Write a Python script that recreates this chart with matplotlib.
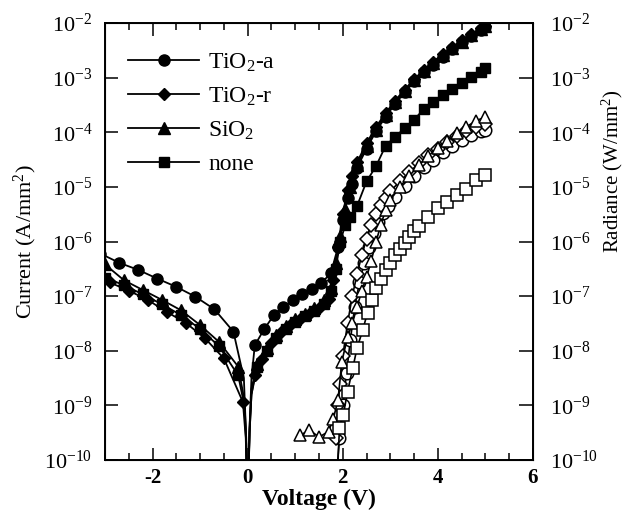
import numpy as np
import matplotlib
matplotlib.use("Agg")
import matplotlib.pyplot as plt
from matplotlib.ticker import MultipleLocator, LogLocator, NullLocator

plt.rcParams["font.family"] = "Liberation Serif"
plt.rcParams["mathtext.fontset"] = "custom"
plt.rcParams["mathtext.rm"] = "Liberation Serif"
plt.rcParams["mathtext.it"] = "Liberation Serif:italic"
plt.rcParams["mathtext.bf"] = "Liberation Serif:bold"
plt.rcParams["axes.unicode_minus"] = False

# current density, log10(A/mm^2), filled symbols
v_ti_a = [-3.1, -2.7, -2.3, -1.9, -1.5, -1.1, -0.7, -0.3, -0.08, -0.04, 0.0, 0.04, 0.08,
          0.15, 0.35, 0.55, 0.75, 0.95, 1.15, 1.35, 1.55, 1.75, 1.9, 2.0, 2.1, 2.2, 2.3,
          2.5, 2.7, 2.9, 3.1, 3.3, 3.5, 3.7, 3.9, 4.1, 4.3, 4.5, 4.7, 4.9, 5.0]
i_ti_a = [-6.22, -6.39, -6.52, -6.68, -6.83, -7.01, -7.24, -7.65, -8.5, -9.4, -11.0, -9.4, -8.5,
          -7.9, -7.6, -7.35, -7.2, -7.07, -6.96, -6.87, -6.76, -6.58, -6.1, -5.6, -5.2, -4.95, -4.65,
          -4.3, -3.98, -3.72, -3.48, -3.27, -3.07, -2.9, -2.76, -2.62, -2.48, -2.35, -2.23, -2.12, -2.07]

v_ti_r = [-2.9, -2.5, -2.1, -1.7, -1.3, -0.9, -0.5, -0.1, -0.04, 0.0, 0.04, 0.08,
          0.15, 0.3, 0.5, 0.7, 0.9, 1.1, 1.3, 1.5, 1.7, 1.8, 1.9, 2.0, 2.1, 2.2, 2.3,
          2.5, 2.7, 2.9, 3.1, 3.3, 3.5, 3.7, 3.9, 4.1, 4.3, 4.5, 4.7, 4.9, 5.0]
i_ti_r = [-6.75, -6.9, -7.07, -7.29, -7.49, -7.77, -8.14, -8.94, -9.6, -11.0, -9.5, -8.8,
          -8.45, -8.15, -7.85, -7.65, -7.52, -7.42, -7.33, -7.22, -7.05, -6.7, -6.1, -5.5, -5.05, -4.8, -4.55,
          -4.2, -3.9, -3.65, -3.42, -3.22, -3.03, -2.86, -2.71, -2.57, -2.44, -2.32, -2.2, -2.1, -2.05]

v_sio2 = [-3.0, -2.6, -2.2, -1.8, -1.4, -1.0, -0.6, -0.2, -0.07, -0.03, 0.0, 0.04, 0.08,
          0.2, 0.4, 0.6, 0.8, 1.0, 1.2, 1.4, 1.6, 1.75, 1.85, 1.95, 2.05, 2.15, 2.3,
          2.5, 2.7, 2.9, 3.1, 3.3, 3.5, 3.7, 3.9, 4.1, 4.3, 4.5, 4.7, 4.9, 5.0]
i_sio2 = [-6.42, -6.71, -6.89, -7.07, -7.26, -7.53, -7.84, -8.29, -8.9, -9.6, -11.0, -9.4, -8.7,
          -8.25, -7.95, -7.72, -7.55, -7.42, -7.32, -7.22, -7.08, -6.85, -6.4, -5.9, -5.4, -5.0, -4.6,
          -4.25, -3.95, -3.68, -3.45, -3.24, -3.05, -2.88, -2.73, -2.59, -2.46, -2.34, -2.22, -2.11, -2.06]

v_none = [-3.0, -2.6, -2.2, -1.8, -1.4, -1.0, -0.6, -0.2, -0.07, -0.03, 0.0, 0.04, 0.08,
          0.2, 0.4, 0.6, 0.8, 1.0, 1.2, 1.4, 1.6, 1.75, 1.85, 1.95, 2.05, 2.15, 2.3,
          2.5, 2.7, 2.9, 3.1, 3.3, 3.5, 3.7, 3.9, 4.1, 4.3, 4.5, 4.7, 4.9, 5.0]
i_none = [-6.66, -6.8, -6.97, -7.15, -7.35, -7.6, -7.92, -8.45, -9.0, -9.7, -11.0, -9.5, -8.8,
          -8.3, -8.0, -7.76, -7.6, -7.47, -7.37, -7.27, -7.14, -6.9, -6.5, -6.0, -5.7, -5.55, -5.35,
          -4.9, -4.62, -4.25, -4.08, -3.93, -3.77, -3.58, -3.45, -3.31, -3.2, -3.09, -2.99, -2.89, -2.83]

# radiance, log10(W/mm^2), open symbols
rv_ti_a = [1.85, 1.93, 2.0, 2.08, 2.16, 2.25, 2.35, 2.45, 2.55, 2.65, 2.75, 2.85, 2.95,
           3.1, 3.3, 3.5, 3.7, 3.9, 4.1, 4.3, 4.5, 4.7, 4.9, 5.0]
r_ti_a = [-10.5, -9.6, -9.0, -8.4, -7.8, -7.2, -6.75, -6.4, -6.1, -5.85, -5.65, -5.48, -5.35,
          -5.18, -4.98, -4.8, -4.64, -4.5, -4.37, -4.25, -4.14, -4.05, -3.98, -3.95]

rv_ti_r = [1.85, 1.9, 1.94, 2.0, 2.1, 2.2, 2.3, 2.4, 2.5, 2.6, 2.7, 2.8, 2.9,
           3.0, 3.2, 3.4, 3.6, 3.8, 4.0, 4.2, 4.4, 4.6, 4.8, 5.0]
r_ti_r = [-9.6, -9.0, -8.6, -8.1, -7.5, -7.0, -6.6, -6.25, -5.95, -5.7, -5.5, -5.33, -5.2,
          -5.08, -4.9, -4.73, -4.57, -4.42, -4.3, -4.18, -4.07, -3.97, -3.9, -3.85]

rv_sio2 = [1.1, 1.3, 1.5, 1.7, 1.8, 1.9, 1.98, 2.1, 2.2, 2.3, 2.4, 2.5, 2.6, 2.7, 2.8, 2.9,
           3.0, 3.2, 3.4, 3.6, 3.8, 4.0, 4.2, 4.4, 4.6, 4.8, 5.0]
r_sio2 = [-9.55, -9.45, -9.58, -9.48, -9.25, -8.9, -8.2, -7.75, -7.5, -7.2, -6.9, -6.65, -6.35, -6.0, -5.7, -5.42,
          -5.24, -5.0, -4.8, -4.6, -4.43, -4.29, -4.16, -4.02, -3.9, -3.79, -3.72]

rv_none = [1.88, 1.93, 2.01, 2.1, 2.21, 2.3, 2.42, 2.52, 2.61, 2.7, 2.8, 2.9, 3.0, 3.1, 3.2,
           3.3, 3.4, 3.5, 3.6, 3.8, 4.0, 4.2, 4.4, 4.6, 4.8, 5.0]
r_none = [-10.4, -9.42, -9.18, -8.75, -8.32, -7.95, -7.62, -7.3, -7.07, -6.85, -6.68, -6.52, -6.4, -6.25, -6.13,
          -6.02, -5.92, -5.8, -5.72, -5.55, -5.39, -5.27, -5.15, -5.03, -4.88, -4.78]

labels = ["TiO$_2$-a", "TiO$_2$-r", "SiO$_2$", "none"]
markers = ["o", "D", "^", "s"]
sizes = [8, 6, 8, 7]

fig = plt.figure(figsize=(6.26, 5.14), dpi=100)
ax = fig.add_axes([105 / 626, 54 / 514, 428 / 626, 437 / 514])

current = [(v_ti_a, i_ti_a), (v_ti_r, i_ti_r), (v_sio2, i_sio2), (v_none, i_none)]
for (v, lg), mk, ms, lab in zip(current, markers, sizes, labels):
    v = np.array(v)
    ax.plot(v, 10.0 ** np.array(lg), color="black", lw=1.3, marker=mk, ms=ms,
            mfc="black", mec="black", markevery=list(np.abs(v) >= 0.09), label=lab)

radiance = [(rv_ti_a, r_ti_a), (rv_ti_r, r_ti_r), (rv_sio2, r_sio2), (rv_none, r_none)]
for (v, lg), mk, ms in zip(radiance, markers, sizes):
    ax.plot(v, 10.0 ** np.array(lg), color="black", lw=1.2, marker=mk, ms=ms + 1,
            mfc="white", mec="black", mew=1.1)

ax.set_xlim(-3, 6)
ax.set_yscale("log")
ax.set_ylim(1e-10, 1e-2)
ax.xaxis.set_major_locator(MultipleLocator(2))
ax.xaxis.set_minor_locator(MultipleLocator(0.5))
ax.yaxis.set_major_locator(LogLocator(base=10, numticks=20))
ax.yaxis.set_minor_locator(NullLocator())
ax.tick_params(axis="both", which="both", direction="in", top=True, width=1.1)
ax.tick_params(axis="x", which="major", length=9, pad=6, labelsize=15)
ax.tick_params(axis="x", which="minor", length=5)
ax.tick_params(axis="y", which="major", length=9, pad=9, labelsize=16)
for t in ax.get_xticklabels():
    t.set_fontweight("bold")
for s in ax.spines.values():
    s.set_linewidth(1.4)

ax2 = ax.twinx()
ax2.set_yscale("log")
ax2.set_ylim(1e-10, 1e-2)
ax2.yaxis.set_major_locator(LogLocator(base=10, numticks=20))
ax2.yaxis.set_minor_locator(NullLocator())
ax2.tick_params(axis="y", which="major", direction="in", length=10, pad=12, labelsize=16, width=1.1)

ax.set_xlabel("Voltage (V)", fontsize=17, fontweight="bold", labelpad=0)
ax.set_ylabel("Current (A/mm$^2$)", fontsize=16)
ax.yaxis.set_label_coords(-0.155, 0.5)
ax2.set_ylabel("Radiance (W/mm$^2$)", fontsize=15)
ax2.yaxis.set_label_coords(1.155, 0.66)

ax.legend(loc="upper left", bbox_to_anchor=(0.054, 0.935), frameon=False, fontsize=17,
          handlelength=3.0, handletextpad=0.4, labelspacing=0.5, borderpad=0, borderaxespad=0)

fig.savefig("out.png", dpi=100)
